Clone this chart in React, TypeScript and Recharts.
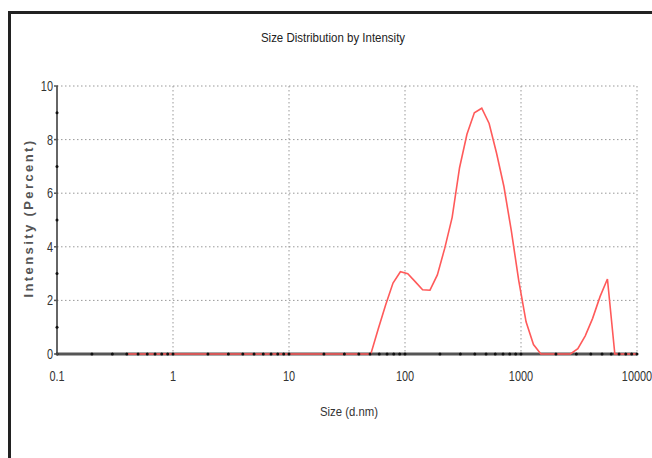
import React from "react";
import { LineChart, Line, XAxis, YAxis, CartesianGrid } from "recharts";

// Size bins (d.nm) and intensity (%)
const sizes = [
  0.4, 0.4632, 0.5365, 0.6213, 0.7195, 0.8332, 0.9649, 1.117, 1.294, 1.499,
  1.736, 2.01, 2.328, 2.696, 3.122, 3.615, 4.187, 4.849, 5.615, 6.503,
  7.531, 8.721, 10.1, 11.7, 13.54, 15.69, 18.17, 21.04, 24.36, 28.21,
  32.67, 37.84, 43.82, 50.75, 58.77, 68.06, 78.82, 91.28, 105.7, 122.4,
  141.8, 164.2, 190.1, 220.2, 255, 295.3, 342, 396.1, 458.7, 531.2,
  615.1, 712.4, 825, 955.4, 1106, 1281, 1484, 1718, 1990, 2305,
  2669, 3091, 3580, 4145, 4801, 5560, 6439, 7456, 8635, 10000,
];

const intensity = [
  0, 0, 0, 0, 0, 0, 0, 0, 0, 0,
  0, 0, 0, 0, 0, 0, 0, 0, 0, 0,
  0, 0, 0, 0, 0, 0, 0, 0, 0, 0,
  0, 0, 0, 0, 0.93, 1.83, 2.65, 3.07, 3.0, 2.7,
  2.4, 2.38, 2.95, 3.95, 5.1, 6.95, 8.2, 9.0, 9.17, 8.6,
  7.5, 6.25, 4.6, 2.75, 1.2, 0.35, 0, 0, 0, 0,
  0, 0.2, 0.68, 1.33, 2.14, 2.8, 0, 0, 0, 0,
];

const majorX = [0.1, 1, 10, 100, 1000, 10000];
const minorX = [
  0.2, 0.3, 0.4, 0.5, 0.6, 0.7, 0.8, 0.9,
  2, 3, 4, 5, 6, 7, 8, 9,
  20, 30, 40, 50, 60, 70, 80, 90,
  200, 300, 400, 500, 600, 700, 800, 900,
  2000, 3000, 4000, 5000, 6000, 7000, 8000, 9000,
];
const majorY = [0, 2, 4, 6, 8, 10];
const minorY = [1, 3, 5, 7, 9];

const data = sizes.map((s, i) => ({ size: s, v: intensity[i] }));

const FONT = "'Liberation Sans', Arial, sans-serif";

const XTick = (props: any) => {
  const { x, y, payload } = props;
  const major = majorX.includes(payload.value);
  return (
    <g>
      <circle cx={x} cy={y} r={1.5} fill="#111" />
      {major && (
        <text
          transform={`translate(${x},${y + 27}) scale(0.78,1)`}
          textAnchor="middle"
          fontSize={14}
          fill="#333"
          fontFamily={FONT}
        >
          {payload.value}
        </text>
      )}
    </g>
  );
};

const YTick = (props: any) => {
  const { x, y, payload } = props;
  const major = majorY.includes(payload.value);
  return (
    <g>
      {major ? (
        <line x1={x - 3} x2={x + 1} y1={y} y2={y} stroke="#555" strokeWidth={1.5} />
      ) : (
        <circle cx={x} cy={y} r={1.5} fill="#111" />
      )}
      {major && (
        <text
          transform={`translate(${x - 4},${y + 5}) scale(0.78,1)`}
          textAnchor="end"
          fontSize={14}
          fill="#333"
          fontFamily={FONT}
        >
          {payload.value}
        </text>
      )}
    </g>
  );
};

export default function App() {
  return (
    <div
      style={{
        position: "absolute",
        left: 8,
        top: 11,
        width: 700,
        height: 500,
        borderTop: "3px solid #222",
        borderLeft: "3px solid #222",
        background: "#fff",
        fontFamily: FONT,
      }}
    >
      <div
        style={{
          position: "absolute",
          left: 322,
          top: 23,
          transform: "translate(-50%, -50%) scaleX(0.85)",
          whiteSpace: "nowrap",
          fontSize: 13.5,
          color: "#222",
        }}
      >
        Size Distribution by Intensity
      </div>
      <div
        style={{
          position: "absolute",
          left: 338,
          top: 397,
          transform: "translate(-50%, -50%) scaleX(0.84)",
          whiteSpace: "nowrap",
          fontSize: 13.5,
          color: "#333",
        }}
      >
        Size (d.nm)
      </div>
      <div
        style={{
          position: "absolute",
          left: 17,
          top: 204,
          transform: "translate(-50%, -50%) rotate(-90deg)",
          whiteSpace: "nowrap",
          fontSize: 13,
          fontWeight: "bold",
          letterSpacing: 2.4,
          color: "#555",
        }}
      >
        Intensity (Percent)
      </div>
      <div style={{ position: "absolute", left: 0, top: 0 }}>
        <LineChart
          width={680}
          height={440}
          data={data}
          margin={{ top: 72, right: 54, left: 0, bottom: 0 }}
        >
          <CartesianGrid
            stroke="#999"
            strokeDasharray="1.5 2.5"
            verticalValues={[1, 10, 100, 1000, 10000]}
            horizontalValues={[2, 4, 6, 8, 10]}
          />
          {/* baseline drawn as a grid line so the series sits above it */}
          <CartesianGrid
            stroke="#555"
            strokeWidth={3}
            vertical={false}
            horizontalValues={[0]}
          />
          <XAxis
            dataKey="size"
            type="number"
            scale="log"
            domain={[0.1, 10000]}
            allowDataOverflow
            ticks={[...majorX, ...minorX]}
            interval={0}
            tickSize={0}
            tickMargin={0}
            tickLine={false}
            height={100}
            axisLine={false}
            tick={<XTick />}
          />
          <YAxis
            type="number"
            domain={[0, 10]}
            ticks={[...majorY, ...minorY]}
            interval={0}
            width={46}
            tickSize={0}
            tickMargin={0}
            tickLine={false}
            axisLine={{ stroke: "#666", strokeWidth: 2 }}
            tick={<YTick />}
          />
          <Line
            dataKey="v"
            type="linear"
            stroke="#ff5a5a"
            strokeWidth={1.6}
            dot={false}
            isAnimationActive={false}
          />
        </LineChart>
      </div>
    </div>
  );
}
